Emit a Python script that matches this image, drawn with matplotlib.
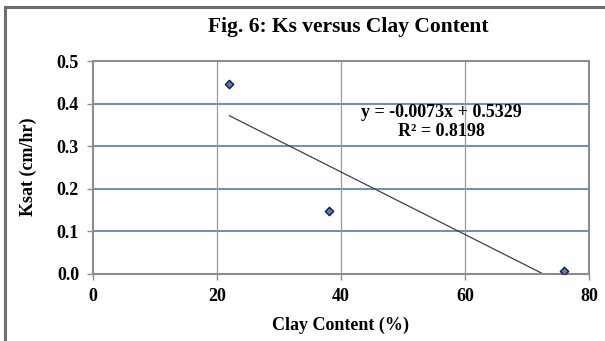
import matplotlib.pyplot as plt
import numpy as np

# dados
clay = [22, 38, 76]
ksat = [0.447, 0.147, 0.007]
x_ticks = [0, 20, 40, 60, 80]
y_ticks = [0.0, 0.1, 0.2, 0.3, 0.4, 0.5]
eq_text = 'y = -0.0073x + 0.5329\nR² = 0.8198'

plt.rcParams['font.family'] = ['Liberation Serif', 'DejaVu Serif']
plt.rcParams['font.weight'] = 'bold'

fig = plt.figure(figsize=(6.05, 3.41), dpi=100)
ax = fig.add_axes([93 / 605, 1 - 274 / 341, (589 - 93) / 605, (274 - 61) / 341])

# moldura externa (so esquerda e topo visiveis)
fig.add_artist(plt.Line2D([4.5 / 605, 4.5 / 605], [0, 1 - 7 / 341], color='#6e6e6e', lw=2.2,
                          transform=fig.transFigure))
fig.add_artist(plt.Line2D([4.5 / 605, 1], [1 - 7 / 341, 1 - 7 / 341], color='#6e6e6e', lw=2.2,
                          transform=fig.transFigure))

ax.set_xlim(0, 80)
ax.set_ylim(0, 0.5)
ax.set_xticks(x_ticks)
ax.set_yticks(y_ticks)
ax.set_xticklabels([str(t) for t in x_ticks], fontsize=13, fontweight='bold')
ax.set_yticklabels(['%.1f' % t for t in y_ticks], fontsize=13, fontweight='bold')

for t in y_ticks[1:-1]:
    ax.axhline(t, color='#4a7ebb', lw=1.2, zorder=1)
for t in x_ticks[1:-1]:
    ax.axvline(t, color='#9a9a9a', lw=0.9, zorder=1)

for s in ax.spines.values():
    s.set_color('#8c8c8c')
    s.set_linewidth(1.5)
ax.tick_params(axis='both', color='#8c8c8c', length=4, width=1, pad=6)

# linha de tendencia
coef = np.polyfit(clay, ksat, 1)
xs = np.array([min(clay), max(clay)])
ax.plot(xs, np.polyval(coef, xs), color='#404040', lw=0.9, zorder=2)

ax.scatter(clay, ksat, marker='D', s=18, facecolor='#4f81bd', edgecolor='#1a1a2e',
           linewidth=1.0, zorder=3)

fig.text(441 / 605, 1 - 122 / 341, eq_text, ha='center', va='center', fontsize=13,
         fontweight='bold', linespacing=1.1)

fig.text(348 / 605, 1 - 27 / 341, 'Fig. 6: Ks versus Clay Content', ha='center', va='center',
         fontsize=15.5, fontweight='bold')
fig.text(28 / 605, 1 - 167 / 341, 'Ksat (cm/hr)', ha='center', va='center', rotation=90,
         fontsize=13, fontweight='bold')
fig.text(341 / 605, 1 - 325 / 341, 'Clay Content (%)', ha='center', va='center',
         fontsize=13, fontweight='bold')

fig.savefig('out.png', dpi=100)
